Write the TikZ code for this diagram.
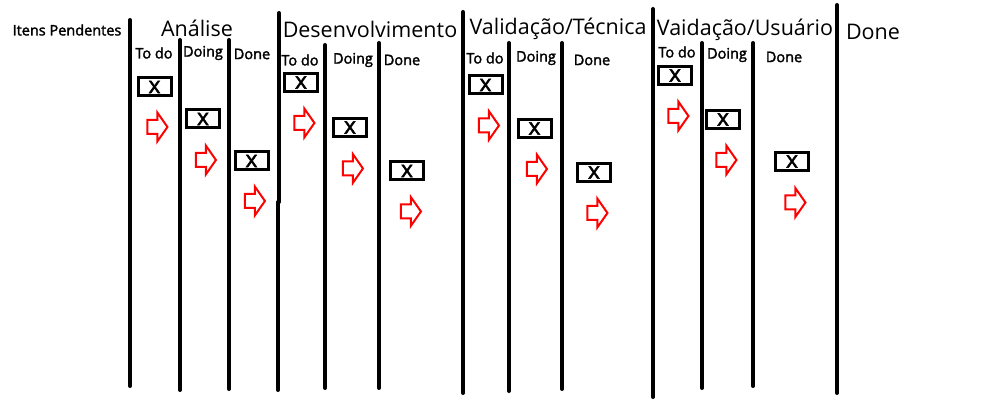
\documentclass[tikz,border=0pt]{standalone}
\usepackage{fontspec}
\setmainfont{Open Sans}
\newfontface\semib{Open Sans}[FakeBold=2]
\usetikzlibrary{shapes.arrows}
\tikzset{
  lane/.style={line width=4pt, line cap=round},
  head/.style={inner sep=0pt, font=\fontsize{21.5}{24}\selectfont},
  sub/.style={inner sep=0pt, font=\semib\fontsize{14.5}{16}\selectfont},
  card/.style={draw, line width=3pt, minimum width=33pt, minimum height=18pt, inner sep=0pt, font=\semib\fontsize{23}{23}\selectfont},
  flow/.style={single arrow, draw=red, line width=2pt, fill=white, minimum height=20pt,
    single arrow head extend=7.5pt, single arrow tip angle=110, inner xsep=0pt, inner ysep=6pt,
    text height=0pt, text depth=0pt, text width=0pt}
}
\begin{document}
\begin{tikzpicture}[x=1pt,y=-1pt]
\useasboundingbox (0,0) rectangle (999,406);
% lanes
\draw[lane] (130,20) -- (130,386);
\draw[lane] (180,40) -- (180,390);
\draw[lane] (229,40) -- (229,389);
\draw[lane] (279,13) -- (279,202);
\draw[lane] (278,202) -- (278,390);
\draw[lane] (325,45) -- (325,388);
\draw[lane] (379,43) -- (379,388);
\draw[lane] (463,12) -- (463,393);
\draw[lane] (509,43) -- (509,391);
\draw[lane] (562,43) -- (562,389);
\draw[lane] (653,9) -- (653,397);
\draw[lane] (702,43) -- (702,388);
\draw[lane] (753,43) -- (753,386);
\draw[lane] (837,5) -- (837,393);
% headings
\node[sub] (pend) at (67,30) {Itens Pendentes};
\node[head] (ana) at (197,28) {Análise};
\node[head] (dev) at (370,29) {Desenvolvimento};
\node[head] (vt) at (558,29) {Validação/Técnica};
\node[head] (vu) at (745,30) {Vaidação/Usuário};
\node[head] (done) at (873,32) {Done};
% sub headings
\node[sub] (a1) at (154,53) {To do};
\node[sub] (a2) at (203,53) {Doing};
\node[sub] (a3) at (252,54) {Done};
\node[sub] (d1) at (300,60) {To do};
\node[sub] (d2) at (353,60) {Doing};
\node[sub] (d3) at (402,60) {Done};
\node[sub] (v1) at (485,58) {To do};
\node[sub] (v2) at (536,58) {Doing};
\node[sub] (v3) at (592,60) {Done};
\node[sub] (u1) at (677,52) {To do};
\node[sub] (u2) at (727,55) {Doing};
\node[sub] (u3) at (784,57) {Done};
% cards
\node[card] (ca1) at (154.5,87) {x};
\node[card] (ca2) at (203,119) {x};
\node[card] (ca3) at (251.5,161) {x};
\node[card] (cd1) at (301,82.5) {x};
\node[card] (cd2) at (350,127.5) {x};
\node[card] (cd3) at (407,171) {x};
\node[card] (cv1) at (485.5,85) {x};
\node[card] (cv2) at (534.5,128.5) {x};
\node[card] (cv3) at (594,172.5) {x};
\node[card] (cu1) at (675,75.5) {x};
\node[card] (cu2) at (723,119.5) {x};
\node[card] (cu3) at (792,161.5) {x};
% arrows
\node[flow] (fa1) at (155,127) {};
\node[flow] (fa2) at (203.5,160) {};
\node[flow] (fa3) at (252.5,201) {};
\node[flow] (fd1) at (302,123) {};
\node[flow] (fd2) at (350.5,168.5) {};
\node[flow] (fd3) at (408.5,211.5) {};
\node[flow] (fv1) at (486.5,125.5) {};
\node[flow] (fv2) at (534.5,169) {};
\node[flow] (fv3) at (595,213) {};
\node[flow] (fu1) at (676,116) {};
\node[flow] (fu2) at (724,160) {};
\node[flow] (fu3) at (793,202.5) {};
\end{tikzpicture}
\end{document}
